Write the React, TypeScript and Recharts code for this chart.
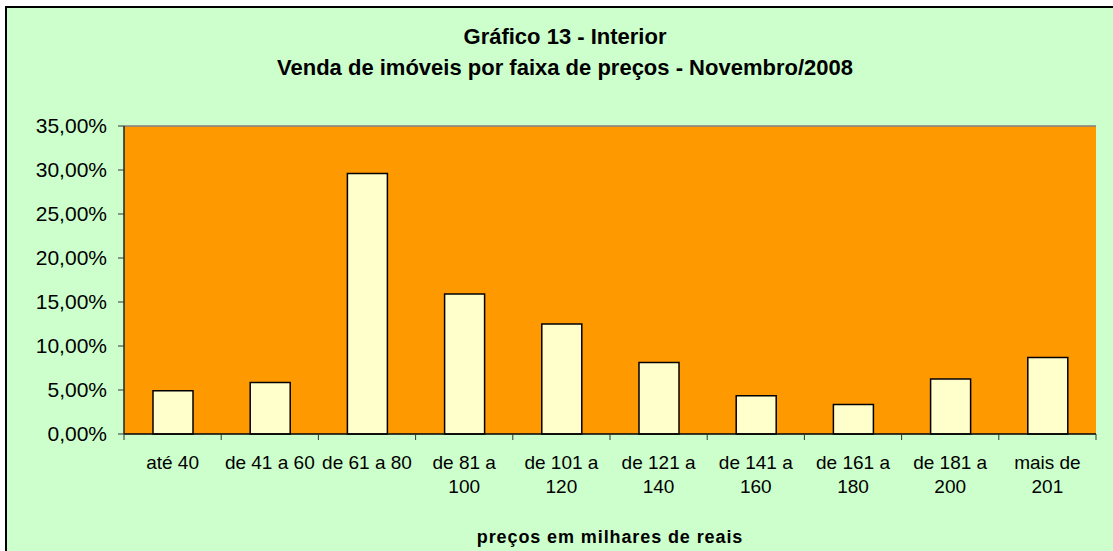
import React from "react";
import { BarChart, Bar, XAxis, YAxis, CartesianGrid, ReferenceLine, Label } from "recharts";

const categories = [
  "até 40",
  "de 41 a 60",
  "de 61 a 80",
  "de 81 a 100",
  "de 101 a 120",
  "de 121 a 140",
  "de 141 a 160",
  "de 161 a 180",
  "de 181 a 200",
  "mais de 201",
];
const shares = [4.92, 5.86, 29.6, 15.9, 12.5, 8.13, 4.35, 3.36, 6.24, 8.7];
const yTicks = [0, 5, 10, 15, 20, 25, 30, 35];

const titleLines = ["Gráfico 13 - Interior", "Venda de imóveis por faixa de preços - Novembro/2008"];
const axisTitle = "preços em milhares de reais";

const data = categories.map((label, i) => ({ label, value: shares[i] }));

const W = 1113;
const H = 551;
const MARGIN = { top: 126, right: 17, bottom: 0, left: 0 };
const Y_AXIS_W = 124;
const PLOT_W = W - MARGIN.left - MARGIN.right - Y_AXIS_W;
const BAND = PLOT_W / categories.length;
const FONT = "'Liberation Sans', Arial, sans-serif";

const pct = (v: number) => `${v.toFixed(2).replace(".", ",")}%`;

// long labels wrap onto a second line, like the spreadsheet did
function splitLabel(s: string): string[] {
  if (s.length <= 10) return [s];
  const cut = s.lastIndexOf(" ");
  return [s.slice(0, cut), s.slice(cut + 1)];
}

function CategoryTick(props: any) {
  const { x, y, payload, index } = props;
  const lines = splitLabel(String(payload.value));
  return (
    <g>
      <line x1={x - BAND / 2} x2={x - BAND / 2} y1={y} y2={y + 6} stroke="#333" />
      {index === categories.length - 1 && (
        <line x1={x + BAND / 2} x2={x + BAND / 2} y1={y} y2={y + 6} stroke="#333" />
      )}
      {lines.map((t, i) => (
        <text key={i} x={x} y={y + 35 + i * 24} textAnchor="middle" fill="#000" fontSize={19} fontFamily={FONT}>
          {t}
        </text>
      ))}
    </g>
  );
}

export default function App() {
  return (
    <div style={{ position: "absolute", left: 0, top: 0, width: W, height: H, background: "#fff", overflow: "hidden" }}>
      <div
        style={{
          position: "absolute",
          left: 5,
          top: 6,
          width: W - 5,
          height: H - 6,
          boxSizing: "border-box",
          borderLeft: "2px solid #000",
          borderTop: "2px solid #000",
          background: "#CCFFCC",
        }}
      />
      {titleLines.map((t, i) => (
        <div
          key={i}
          style={{
            position: "absolute",
            left: 0,
            width: 1130,
            top: i === 0 ? 26 : 57,
            lineHeight: "22px",
            fontSize: 22,
            fontWeight: "bold",
            fontFamily: FONT,
            textAlign: "center",
            color: "#000",
          }}
        >
          {t}
        </div>
      ))}
      <div style={{ position: "absolute", left: 0, top: 0 }}>
        <BarChart width={W} height={H} data={data} margin={MARGIN} barSize={40}>
          <CartesianGrid horizontal={false} vertical={false} fill="#FF9900" />
          <XAxis
            dataKey="label"
            height={H - 434}
            tick={<CategoryTick />}
            tickLine={false}
            tickSize={0}
            tickMargin={0}
            interval={0}
            axisLine={{ stroke: "#000", strokeWidth: 1.5 }}
          >
            <Label
              value={axisTitle}
              position="insideBottom"
              offset={8}
              style={{ fontFamily: FONT, fontSize: 18, fontWeight: "bold", fill: "#000", letterSpacing: 0.9 }}
            />
          </XAxis>
          <YAxis
            width={Y_AXIS_W}
            domain={[0, 35]}
            ticks={yTicks}
            tickFormatter={pct}
            tickSize={6}
            tickMargin={11}
            tickLine={{ stroke: "#333" }}
            axisLine={{ stroke: "#222", strokeWidth: 1.5 }}
            tick={{ fill: "#000", fontSize: 21, fontFamily: FONT }}
          />
          <YAxis
            yAxisId="r"
            orientation="right"
            width={0}
            domain={[0, 35]}
            tick={false}
            tickLine={false}
            axisLine={{ stroke: "#808080", strokeWidth: 1.5 }}
          />
          <ReferenceLine y={35} stroke="#808080" strokeWidth={1.5} />
          <Bar dataKey="value" fill="#FFFFCC" stroke="#000" strokeWidth={1.5} isAnimationActive={false} />
        </BarChart>
      </div>
    </div>
  );
}
